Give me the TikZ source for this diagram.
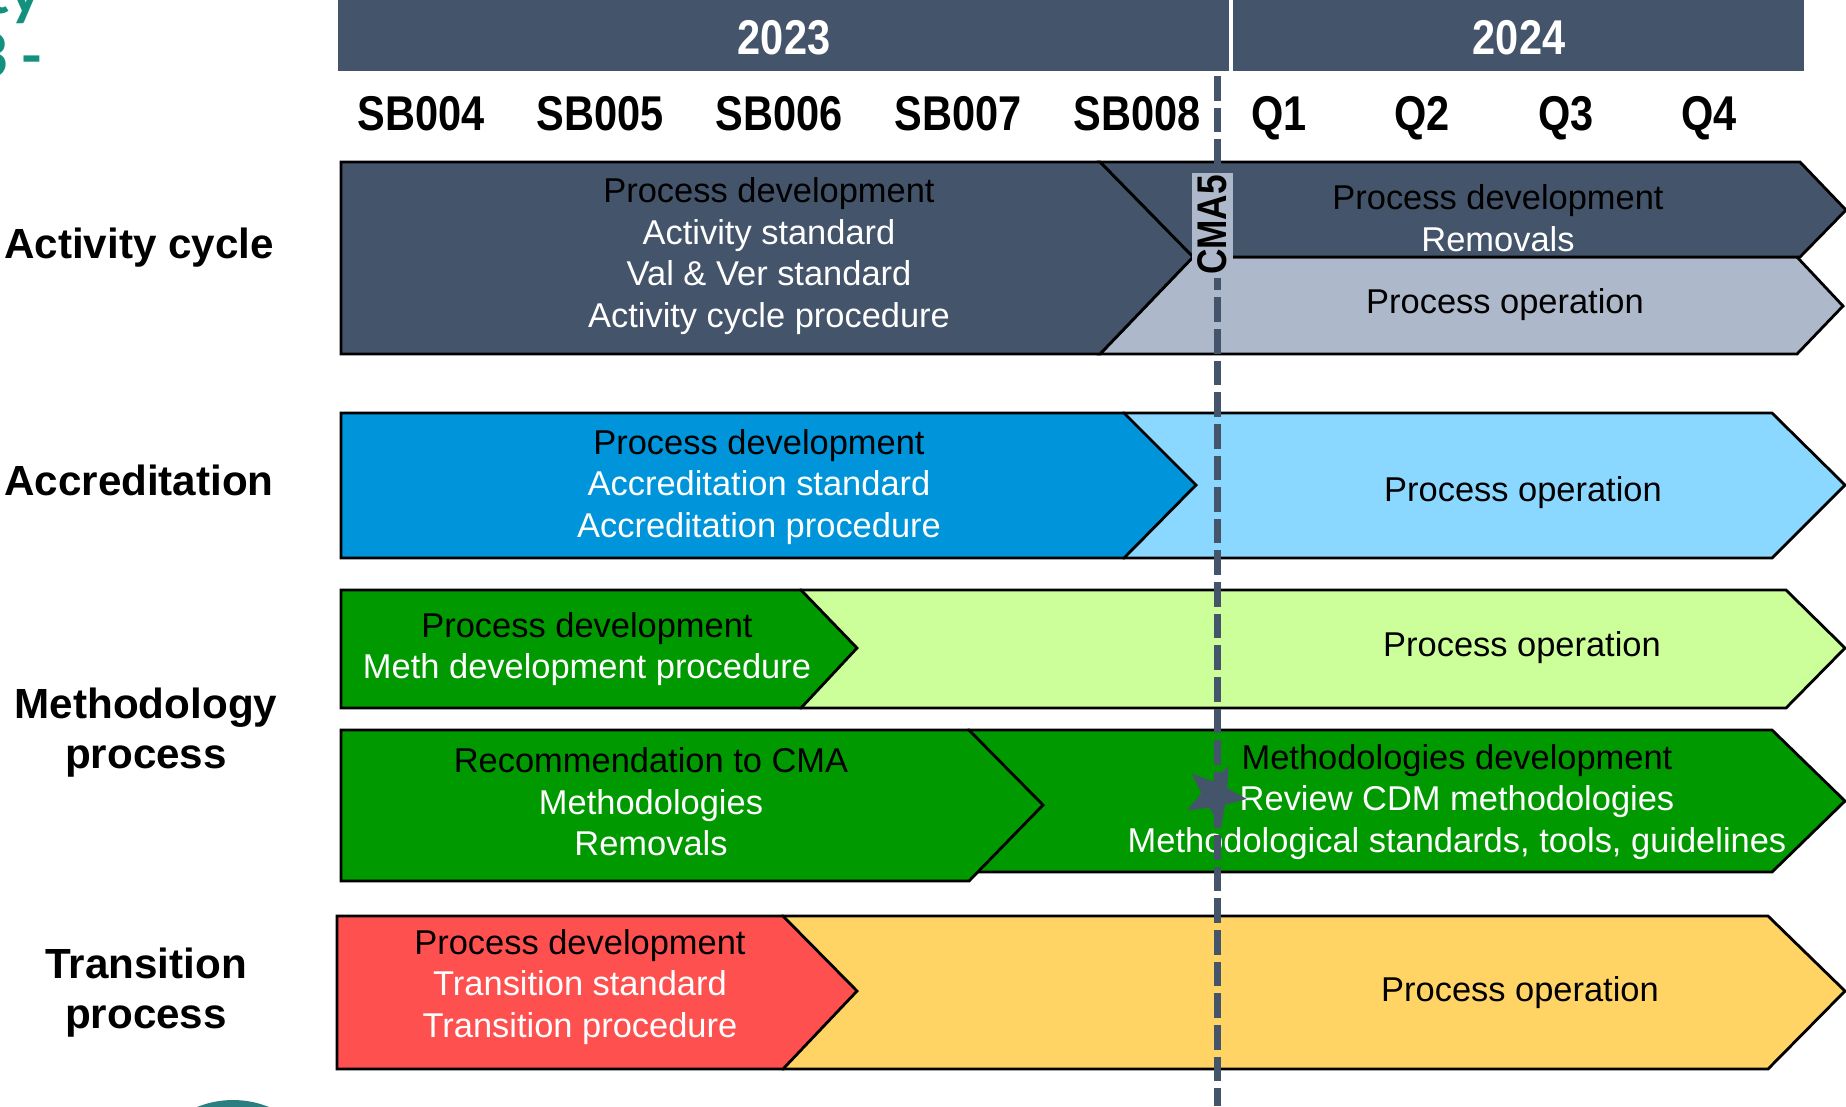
\documentclass[tikz,border=0pt]{standalone}
\usepackage{fontspec}
\setmainfont{Liberation Sans}
\newfontfamily\narrowfont[FakeStretch=0.85]{Liberation Sans}
\newfontfamily\cornerfont{Lato}
\usetikzlibrary{shapes.geometric}
\definecolor{slate}{HTML}{44546A}
\definecolor{slatelight}{HTML}{ADB9CA}
\definecolor{accblue}{HTML}{0095DA}
\definecolor{acclight}{HTML}{8AD8FF}
\definecolor{methgreen}{HTML}{009900}
\definecolor{methlight}{HTML}{CCFF99}
\definecolor{transred}{HTML}{FF5050}
\definecolor{transyellow}{HTML}{FFD464}
\definecolor{cornerteal}{HTML}{14917E}
\definecolor{circleteal}{HTML}{2B7F80}

\begin{document}
\begin{tikzpicture}[x=0.1mm,y=-0.1mm,
    bar/.style={draw=black,line width=0.8pt,line join=miter},
    txt/.style={align=center,inner sep=0pt,font=\fontsize{9.8}{11.8}\selectfont},
    hdr/.style={inner sep=0pt,font=\narrowfont\bfseries\fontsize{13.9}{16}\selectfont},
    rowlbl/.style={align=center,inner sep=0pt,font=\bfseries\fontsize{12}{14.2}\selectfont},
    corner/.style={inner sep=0pt,text=cornerteal,font=\cornerfont\bfseries\fontsize{17.4}{20}\selectfont}]
    \useasboundingbox (0,0) rectangle (1846,1106);

    % cut-off bits of the slide
    \node [corner,anchor=base east] (ttlone) at (42,13) {ty};
    \node [corner,anchor=base east] (ttltwo) at (10,77) {3};
    \node [corner,anchor=base west] (ttldash) at (20,77) {-};
    \fill [circleteal] (233,1196) circle (96);

    % years and periods
    \fill [slate] (338,-10) rectangle (1804,71);
    \draw [white,line width=1pt] (1231,-10) -- (1231,71);
    \node [hdr,text=white] (y2023) at (784,38) {2023};
    \node [hdr,text=white] (y2024) at (1519,38) {2024};

    \path (421,130)  node [hdr,anchor=base] (sb4) {SB004}
          (600,130)  node [hdr,anchor=base] (sb5) {SB005}
          (779,130)  node [hdr,anchor=base] (sb6) {SB006}
          (958,130)  node [hdr,anchor=base] (sb7) {SB007}
          (1137,130) node [hdr,anchor=base] (sb8) {SB008}
          (1279,130) node [hdr,anchor=base] (q1) {Q1}
          (1422,130) node [hdr,anchor=base] (q2) {Q2}
          (1566,130) node [hdr,anchor=base] (q3) {Q3}
          (1709,130) node [hdr,anchor=base] (q4) {Q4};

    % activity cycle
    \draw [bar,fill=slatelight] (1193,257) -- (1797,257) -- (1843,306) -- (1797,354) -- (1100,354) -- cycle;
    \draw [bar,fill=slate] (1100,162) -- (1800,162) -- (1846,210) -- (1800,257) -- (1193,257) -- cycle;
    \draw [bar,fill=slate] (341,162) -- (1100,162) -- (1193,257) -- (1100,354) -- (341,354) -- cycle;

    % accreditation
    \draw [bar,fill=acclight] (1124,413) -- (1772,413) -- (1845,485) -- (1772,558) -- (1124,558) -- cycle;
    \draw [bar,fill=accblue] (341,413) -- (1124,413) -- (1196,485) -- (1124,558) -- (341,558) -- cycle;

    % methodology
    \draw [bar,fill=methlight] (801,590) -- (1786,590) -- (1845,648) -- (1786,708) -- (801,708) -- cycle;
    \draw [bar,fill=methgreen] (341,590) -- (801,590) -- (857,648) -- (801,708) -- (341,708) -- cycle;
    \draw [bar,fill=methgreen] (969,730) -- (1772,730) -- (1845,801) -- (1772,872) -- (969,872) -- cycle;
    \draw [bar,fill=methgreen] (341,730) -- (969,730) -- (1043,805) -- (969,881) -- (341,881) -- cycle;

    % transition
    \draw [bar,fill=transyellow] (783,916) -- (1768,916) -- (1845,991) -- (1768,1069) -- (783,1069) -- cycle;
    \draw [bar,fill=transred] (337,916) -- (783,916) -- (857,991) -- (783,1069) -- (337,1069) -- cycle;

    % row names
    \node [rowlbl] (lblact) at (139,248) {Activity cycle};
    \node [rowlbl] (lblacc) at (139,480) {Accreditation};
    \node [rowlbl] (lblmeth) at (146,733) {Methodology\\process};
    \node [rowlbl] (lbltrans) at (146,993) {Transition\\process};

    % texts in the bars
    \node [txt,text=white] (actdev) at (769,256) {\textcolor{black}{Process development}\\Activity standard\\Val \& Ver standard\\Activity cycle procedure};
    \node [txt,text=white] (actnext) at (1498,218) {\textcolor{black}{Process development}\\Removals};
    \node [txt] (actop) at (1505,305) {Process operation};
    \node [txt,text=white] (accdev) at (759,487) {\textcolor{black}{Process development}\\Accreditation standard\\Accreditation procedure};
    \node [txt] (accop) at (1523,493) {Process operation};
    \node [txt,text=white] (methdev) at (587,649) {\textcolor{black}{Process development}\\Meth development procedure};
    \node [txt] (methop) at (1522,648) {Process operation};
    \node [txt,text=white] (methrec) at (651,802) {\textcolor{black}{Recommendation to CMA}\\Methodologies\\Removals};
    \node [txt,text=white] (methnext) at (1457,802) {\textcolor{black}{Methodologies development}\\Review CDM methodologies\\Methodological standards, tools, guidelines};
    \node [txt,text=white] (transdev) at (580,987) {\textcolor{black}{Process development}\\Transition standard\\Transition procedure};
    \node [txt] (transop) at (1520,993) {Process operation};

    % CMA5 milestone
    \node [star,star points=5,star point ratio=2.3,fill=slate,minimum size=6.4mm,inner sep=0pt,rotate=-25] (cmastar) at (1215,795) {};
    \coordinate (cmatop) at (1217,76);
    \coordinate (cmabot) at (1217,1106);
    \draw [slate,line width=2pt,dash pattern=on 7pt off 2pt] (cmatop) -- (cmabot);
    \node [fill=slatelight,rotate=90,inner sep=0pt,minimum width=10.5mm,minimum height=4.1mm,font=\narrowfont\bfseries\fontsize{11.8}{13}\selectfont] (cma5) at (1212,225) {CMA5};
\end{tikzpicture}
\end{document}
